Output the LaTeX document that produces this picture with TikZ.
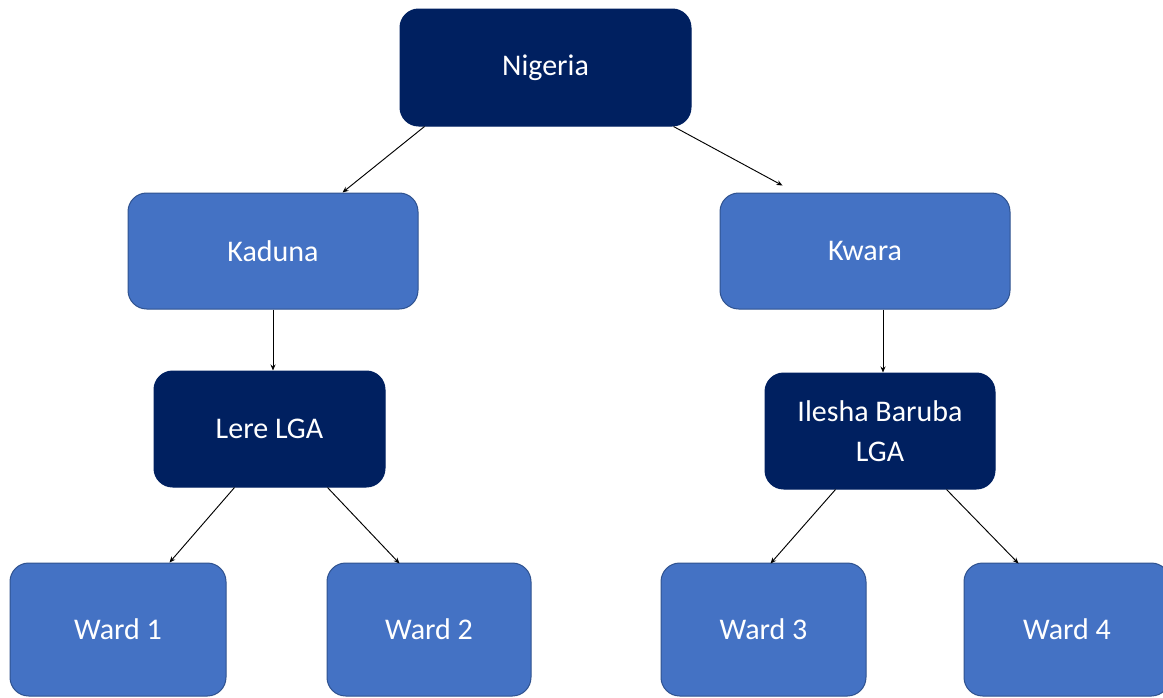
\documentclass[tikz,border=0pt]{standalone}
\usepackage{fontspec}
\setmainfont{Carlito}
\usetikzlibrary{arrows.meta,calc}
\definecolor{navy}{HTML}{002060}
\definecolor{midblue}{HTML}{4472C4}
\definecolor{blueedge}{HTML}{2F528F}
\tikzset{
  box/.style={rounded corners=14pt, text=white, align=center,
    font=\fontsize{22.5}{30}\selectfont, inner sep=0pt, line width=0.75pt},
  darkbox/.style={box, fill=navy, draw=navy},
  lightbox/.style={box, fill=midblue, draw=blueedge},
  conn/.style={line width=0.7pt, -{Stealth[length=4.5pt,width=3.75pt]}}
}
\begin{document}
\begin{tikzpicture}[x=0.75pt,y=-0.75pt]
\useasboundingbox (0,0) rectangle (1163,697);
\clip (0,0) rectangle (1163,697);
\node[darkbox, minimum width=218.25pt, minimum height=87.75pt] (nig) at (545.5,67.5) {Nigeria};
\node[lightbox, minimum width=217.5pt, minimum height=87pt] (kad) at (273,251) {Kaduna};
\node[lightbox, minimum width=217.5pt, minimum height=87pt] (kwa) at (865,251) {Kwara};
\node[darkbox, minimum width=173.25pt, minimum height=87pt] (lere) at (269.5,429) {Lere LGA};
\node[darkbox, minimum width=172.5pt, minimum height=87pt] (ile) at (880,431) {Ilesha Baruba\\LGA};
\node[lightbox, minimum width=162pt, minimum height=99.75pt] (w1) at (118,629.5) {Ward 1};
\node[lightbox, minimum width=153pt, minimum height=99.75pt] (w2) at (429,629.5) {Ward 2};
\node[lightbox, minimum width=153.75pt, minimum height=99.75pt] (w3) at (763.5,629.5) {Ward 3};
\node[lightbox, minimum width=154.5pt, minimum height=99.75pt] (w4) at (1067,629.5) {Ward 4};
\draw[conn] ($(nig.south west)+(25,0)$) -- ($(kad.north west)+(215,0)$);
\draw[conn] ($(nig.south east)+(-18,0)$) -- ($(kwa.north west)+(63,-7)$);
\draw[conn] (kad.south) -- (kad.south |- lere.north);
\draw[conn] ($(kwa.south)+(18,0)$) -- ($(kwa.south |- ile.north)+(18,0)$);
\draw[conn] ($(lere.south west)+(81,0)$) -- ($(w1.north west)+(160,0)$);
\draw[conn] ($(lere.south west)+(174,0)$) -- ($(w2.north west)+(73,1)$);
\draw[conn] ($(ile.south west)+(71,0)$) -- ($(w3.north west)+(110,1)$);
\draw[conn] ($(ile.south west)+(182,0)$) -- ($(w4.north west)+(55,1)$);
\end{tikzpicture}
\end{document}
